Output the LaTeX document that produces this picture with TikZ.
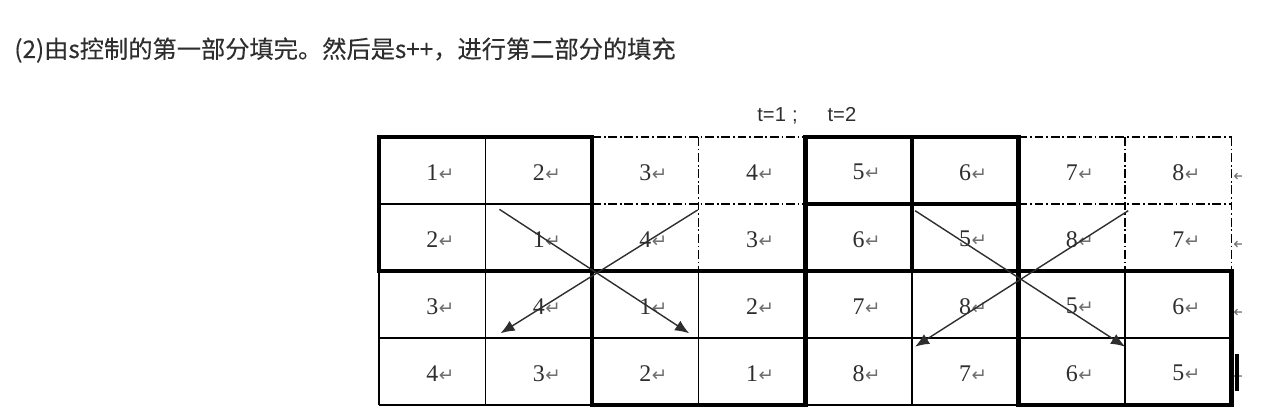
\documentclass[tikz,border=0pt]{standalone}
\usepackage{fontspec}
\setmainfont{Liberation Serif}
\setsansfont{Liberation Sans}
\newfontfamily\cjk[FakeBold=0.2]{Noto Sans CJK SC}
\newfontfamily\symfont{DejaVu Sans}
\usetikzlibrary{arrows.meta}
\definecolor{txtgray}{HTML}{2E2E2E}
\definecolor{markgray}{HTML}{6E6E6E}
\def\retmark{\rlap{\kern0.3pt{\symfont\fontsize{10.5}{11}\selectfont\color{markgray}↵}}}

\begin{document}
\begin{tikzpicture}[x=0.02cm,y=-0.02cm]
    \tikzstyle{cell}=[inner sep=0pt,yshift=-1pt,font=\fontsize{13.6}{15}\selectfont,text=txtgray]
    \tikzstyle{thin rule}=[line width=0.75pt]
    \tikzstyle{dot rule}=[line width=0.65pt,dash pattern=on 5pt off 1.6pt on 1pt off 1.6pt]
    \tikzstyle{thick rule}=[line width=2.6pt,line cap=rect]
    \tikzstyle{swap}=[draw=txtgray,line width=0.8pt,-{Latex[length=8pt,width=6.5pt]}]

    \useasboundingbox (0,0) rectangle (1279,415);

    % Title and steps
    \node[anchor=base west,inner sep=0pt,text=txtgray,font=\cjk\fontsize{13.8}{16}\selectfont] (title) at (14,58) {(2)由s控制的第一部分填完。然后是s++，进行第二部分的填充};
    \node[anchor=base west,inner sep=0pt,text=txtgray,font=\sffamily\fontsize{11.5}{13}\selectfont] (steps) at (757,122) {t=1\hspace{3.5pt};\hspace{17pt}t=2};

    \begin{scope}[shift={(379,137)},x=2.132cm,y=-1.34cm]
        % Numbers in the cells
        \foreach \row/\vals in {0/{1,2,3,4,5,6,7,8},1/{2,1,4,3,6,5,8,7},2/{3,4,1,2,7,8,5,6},3/{4,3,2,1,8,7,6,5}}
            \foreach \v [count=\col from 0] in \vals
                \node[cell] (c\row\col) at (\col+0.5,\row+0.5) {\v\retmark};

        % Thin rules
        \draw[thin rule] (0,1) -- (2,1) (0,3) -- (8,3) (0,4) -- (2,4) (4,4) -- (6,4)
            (0,2) -- (0,4) (1,0) -- (1,4) (3,2) -- (3,4) (5,2) -- (5,4) (7,2) -- (7,4);

        % Dash-dot rules
        \draw[dot rule] (2,0) -- (4,0) (2,1) -- (4,1) (6,0) -- (8,0) (6,1) -- (8,1)
            (3,0) -- (3,2) (7,0) -- (7,2) (8,0) -- (8,2);

        % Thick rules
        \draw[thick rule] (0,2) -- (0,0) -- (2,0) (4,0) -- (6,0) (4,1) -- (6,1) (0,2) -- (8,2)
            (2,4) -- (4,4) (6,4) -- (8,4) (2,0) -- (2,4) (4,0) -- (4,4) (5,0) -- (5,2)
            (6,0) -- (6,4) (8,2) -- (8,4);

        % Swap arrows
        \coordinate (a1) at (1.13,1.08);
        \coordinate (a2) at (2.91,2.93);
        \coordinate (b1) at (2.99,1.09);
        \coordinate (b2) at (1.14,2.93);
        \coordinate (d1) at (5.03,1.1);
        \coordinate (d2) at (7.0,3.13);
        \coordinate (e1) at (7.03,1.1);
        \coordinate (e2) at (5.03,3.13);
        \draw[swap] (a1) -- (a2);
        \draw[swap] (b1) -- (b2);
        \draw[swap] (d1) -- (d2);
        \draw[swap] (e1) -- (e2);
    \end{scope}

    % Cut-off marks at the right edge
    \begin{scope}
        \clip (1234,150) rectangle (1241,400);
        \foreach \y [count=\i] in {177,245,313,377}
            \node[anchor=west,inner sep=0pt,text=markgray,font=\symfont\fontsize{9}{10}\selectfont] (edge\i) at (1233,\y) {↵};
    \end{scope}
    \draw[line width=1.8pt] (1237,354) -- (1237,391);
\end{tikzpicture}
\end{document}
